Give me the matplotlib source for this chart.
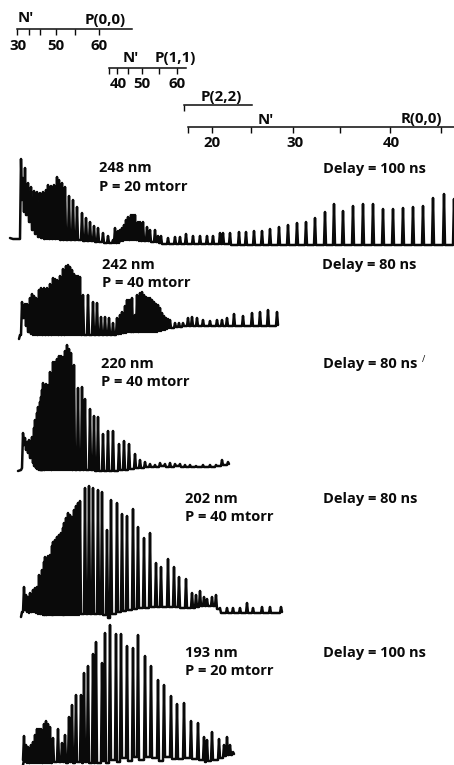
import numpy as np
import matplotlib
matplotlib.use('Agg')
import matplotlib.pyplot as plt

# all traces are read off the scanned figure, x / y in image pixels
# ── 248 nm ──
s1_start_x = [10, 13, 19]
s1_start_y = [238, 239, 239]
s1_px = [21, 23, 25, 28, 31, 34, 37, 40, 43, 46,
         48, 51, 54, 57, 59, 62, 65, 69, 73, 77,
         82, 86, 90, 94, 98, 103, 108, 113, 115, 118,
         120, 122, 124, 126, 128, 131, 133, 135, 138, 140,
         143, 147, 150, 155, 158, 161, 168, 175, 180, 186,
         193, 200, 207, 213, 220, 223, 230, 239, 246, 254,
         262, 270, 279, 288, 297, 306, 315, 325, 334, 343,
         353, 363, 373, 383, 393, 403, 413, 423, 433, 444, 454]
s1_py = [159, 178, 168, 183, 187, 191, 192, 193, 192, 190,
         185, 186, 185, 177, 180, 183, 187, 196, 200, 207,
         213, 218, 222, 226, 228, 233, 236, 240, 228, 231,
         230, 228, 225, 220, 217, 215, 215, 215, 222, 222,
         222, 227, 230, 230, 236, 236, 238, 237, 237, 234,
         236, 236, 236, 236, 233, 233, 233, 232, 232, 231,
         231, 229, 227, 225, 223, 222, 218, 212, 204, 211,
         206, 204, 204, 209, 209, 208, 207, 206, 198, 194, 199]
s1_vy = [200, 212, 215, 222, 230, 234, 237, 238, 239, 239,
         239, 239, 239, 239, 240, 240, 240, 240, 240, 240,
         241, 241, 241, 242, 242, 243, 243, 243, 243, 243,
         241, 241, 240, 240, 240, 240, 240, 240, 241, 241,
         241, 241, 242, 242, 243, 244, 244, 244, 244, 244,
         244, 244, 244, 244, 244, 244, 245, 245, 245, 245,
         245, 245, 245, 245, 245, 245, 245, 245, 245, 245,
         245, 245, 245, 245, 245, 245, 245, 245, 245, 245, 240]

# ── 242 nm ──
s2_start_x = [19, 20]
s2_start_y = [339, 335]
s2_px = [22, 25, 27, 30, 32, 34, 36, 39, 41, 44,
         47, 50, 53, 55, 57, 60, 63, 66, 68, 70,
         72, 74, 76, 78, 80, 83, 88, 93, 97, 101,
         105, 109, 113, 117, 120, 122, 125, 127, 129, 131,
         132, 135, 137, 140, 142, 144, 146, 148, 150, 152,
         154, 156, 158, 160, 162, 164, 166, 168, 170, 175,
         179, 183, 188, 192, 197, 203, 210, 217, 222, 227,
         234, 243, 252, 260, 268, 277]
s2_py = [302, 304, 304, 298, 294, 296, 298, 290, 288, 288,
         288, 284, 278, 279, 280, 276, 269, 266, 265, 267,
         270, 274, 276, 276, 277, 295, 295, 302, 303, 317,
         317, 318, 323, 318, 315, 312, 306, 300, 300, 300,
         298, 315, 295, 293, 292, 295, 297, 298, 298, 300,
         302, 304, 305, 308, 313, 316, 318, 319, 320, 323,
         323, 323, 318, 317, 318, 320, 321, 320, 320, 318,
         314, 316, 313, 312, 310, 312]
s2_vy = [318, 326, 332, 334, 335, 335, 335, 335, 335, 335,
         335, 335, 335, 335, 335, 335, 335, 335, 335, 335,
         335, 335, 335, 335, 335, 335, 335, 335, 335, 335,
         335, 335, 335, 334, 334, 333, 333, 332, 332, 332,
         332, 332, 332, 332, 332, 332, 332, 332, 332, 332,
         332, 332, 331, 331, 330, 330, 329, 328, 328, 327,
         327, 326, 326, 326, 326, 326, 326, 326, 326, 326,
         326, 326, 326, 326, 326, 325]

# ── 220 nm ──
s3_start_x = [18, 21, 22]
s3_start_y = [471, 470, 468]
s3_px = [23, 25, 27, 29, 32, 34, 35, 37, 38, 40,
         41, 42, 43, 46, 48, 50, 53, 55, 57, 59,
         61, 63, 65, 67, 69, 71, 74, 78, 82, 85,
         90, 94, 98, 103, 108, 113, 119, 124, 129, 135,
         140, 145, 150, 155, 160, 165, 170, 175, 180, 185,
         190, 196, 203, 210, 216, 222, 228]
s3_py = [433, 438, 442, 440, 437, 428, 420, 413, 407, 402,
         397, 390, 383, 384, 385, 372, 362, 362, 359, 356,
         356, 357, 351, 345, 349, 353, 365, 388, 387, 399,
         409, 416, 417, 434, 431, 431, 444, 441, 444, 454,
         460, 462, 464, 465, 463, 464, 463, 464, 464, 465,
         465, 466, 465, 465, 465, 460, 462]
s3_vy = [445, 450, 453, 458, 463, 466, 468, 469, 470, 470,
         470, 470, 470, 470, 470, 470, 470, 470, 470, 470,
         470, 470, 470, 470, 470, 470, 470, 470, 470, 470,
         470, 471, 471, 471, 471, 471, 470, 470, 469, 468,
         468, 467, 467, 467, 466, 467, 467, 466, 467, 467,
         467, 467, 467, 467, 466, 465, 464]

# ── 202 nm ──
s4_start_x = [21, 22]
s4_start_y = [617, 612]
s4_px = [24, 26, 28, 30, 33, 35, 37, 39, 42, 44,
         45, 48, 50, 52, 53, 55, 57, 59, 61, 63,
         64, 66, 68, 70, 72, 74, 76, 78, 80, 85,
         89, 93, 98, 102, 107, 111, 117, 122, 127, 133,
         138, 144, 150, 156, 161, 168, 174, 179, 186, 192,
         196, 200, 204, 207, 212, 216, 220, 227, 233, 240,
         247, 253, 262, 270, 281]
s4_py = [587, 595, 597, 593, 590, 588, 587, 575, 570, 562,
         557, 556, 555, 546, 542, 540, 537, 535, 533, 528,
         523, 518, 513, 515, 517, 510, 506, 503, 501, 488,
         486, 488, 490, 492, 530, 500, 503, 514, 516, 509,
         527, 538, 533, 563, 567, 559, 567, 577, 579, 593,
         595, 591, 597, 599, 597, 595, 608, 608, 608, 608,
         603, 608, 607, 607, 607]
s4_vy = [610, 612, 613, 612, 612, 613, 614, 614, 615, 615,
         615, 615, 615, 615, 615, 615, 615, 615, 615, 615,
         615, 615, 615, 615, 615, 615, 615, 615, 614, 614,
         614, 614, 614, 615, 618, 614, 612, 611, 610, 609,
         608, 608, 607, 607, 607, 607, 607, 608, 608, 608,
         607, 606, 606, 606, 606, 609, 613, 613, 613, 613,
         613, 613, 613, 613, 612]

# ── 193 nm ──
s5_start_x = [23, 24]
s5_start_y = [765, 760]
s5_px = [24, 26, 28, 31, 33, 35, 37, 39, 41, 44,
         46, 48, 50, 53, 58, 62, 65, 69, 72, 76,
         81, 84, 88, 93, 96, 102, 105, 110, 116, 121,
         127, 133, 138, 145, 151, 158, 164, 171, 177, 184,
         191, 198, 204, 207, 212, 219, 224, 227, 230, 233]
s5_py = [736, 745, 747, 745, 742, 735, 729, 729, 729, 724,
         721, 724, 727, 738, 729, 743, 735, 717, 705, 695,
         695, 673, 666, 654, 642, 663, 633, 625, 634, 634,
         646, 648, 635, 656, 666, 680, 685, 696, 704, 703,
         721, 723, 737, 740, 732, 739, 745, 737, 745, 752]
s5_vy = [762, 763, 763, 763, 763, 763, 763, 763, 763, 763,
         763, 763, 763, 762, 762, 762, 763, 762, 763, 762,
         763, 762, 763, 763, 763, 761, 763, 760, 762, 758,
         761, 757, 760, 757, 758, 761, 757, 759, 759, 758,
         759, 760, 762, 761, 760, 758, 756, 755, 755, 754]

# ── rotational scales above the spectra ──
scale_y = [29, 68, 105, 127]
scale_x0 = [17, 109, 184, 188]
scale_x1 = [132, 186, 252, 454]
scale_ticks = [[17, 29, 40, 56, 75, 99],
               [109, 117, 128, 142, 159, 177],
               [184],
               [188, 212, 251, 293, 340, 390, 441]]
scale_labels = [('30', 18, 46), ('50', 56, 46), ('60', 99, 46),
                ('40', 118, 84), ('50', 142, 84), ('60', 177, 84),
                ('20', 212, 143), ('30', 295, 143), ('40', 391, 143),
                ("N'", 26, 18), ('P(0,0)', 105, 20),
                ("N'", 131, 58), ('P(1,1)', 175, 58),
                ('P(2,2)', 221, 97),
                ("N'", 266, 120), ('R(0,0)', 421, 119)]

# ── annotations ──
notes = [('248 nm', 99, 168), ('P = 20 mtorr', 99, 187), ('Delay = 100 ns', 323, 169),
         ('242 nm', 102, 265), ('P = 40 mtorr', 102, 283), ('Delay = 80 ns', 322, 265),
         ('220 nm', 101, 364), ('P = 40 mtorr', 101, 382), ('Delay = 80 ns', 323, 364),
         ('202 nm', 185, 499), ('P = 40 mtorr', 185, 517), ('Delay = 80 ns', 323, 499),
         ('193 nm', 185, 653), ('P = 20 mtorr', 185, 671), ('Delay = 100 ns', 323, 653)]

INK = '#0a0a0a'
FONT = 'Open Sans'
FS_NOTE = 10.5
FS_SCALE = 10.8
HALF_W = 1.0   # half width of a peak foot, px


def trace(ax, start_x, start_y, px, py, vy):
    # narrow peak: up from the last valley, down to its own valley
    px = np.asarray(px, dtype=float)
    vy = np.asarray(vy, dtype=float)
    prev_v = np.r_[start_y[-1], vy[:-1]]
    x = np.empty(3 * len(px))
    y = np.empty(3 * len(px))
    x[0::3], x[1::3], x[2::3] = px - HALF_W, px, px + HALF_W
    y[0::3], y[1::3], y[2::3] = prev_v, py, vy
    x = np.r_[start_x, x]
    y = np.r_[start_y, y]
    ax.plot(x, y, color=INK, lw=1.8, solid_joinstyle='round',
            solid_capstyle='round')


fig = plt.figure(figsize=(4.54, 7.65), dpi=100)
ax = fig.add_axes([0, 0, 1, 1])
ax.set_xlim(0, 454)
ax.set_ylim(765, 0)
ax.axis('off')

trace(ax, s1_start_x, s1_start_y, s1_px, s1_py, s1_vy)
trace(ax, s2_start_x, s2_start_y, s2_px, s2_py, s2_vy)
trace(ax, s3_start_x, s3_start_y, s3_px, s3_py, s3_vy)
trace(ax, s4_start_x, s4_start_y, s4_px, s4_py, s4_vy)
trace(ax, s5_start_x, s5_start_y, s5_px, s5_py, s5_vy)

for y, x0, x1, ticks in zip(scale_y, scale_x0, scale_x1, scale_ticks):
    ax.plot([x0, x1], [y, y], color=INK, lw=1.1)
    ax.vlines(ticks, y, y + 6, color=INK, lw=1.0)

for txt, x, y in scale_labels:
    ax.text(x, y, txt, ha='center', va='center', fontsize=FS_SCALE, color=INK,
            family=FONT, fontweight='bold')

for txt, x, y in notes:
    ax.text(x, y, txt, ha='left', va='center', fontsize=FS_NOTE, color=INK,
            family=FONT, fontweight='bold')

# stray pen mark beside the third delay note
ax.text(424, 359, '/', ha='center', va='center', fontsize=6.5, color=INK, family=FONT)

fig.savefig('out.png', dpi=100, facecolor='white')
